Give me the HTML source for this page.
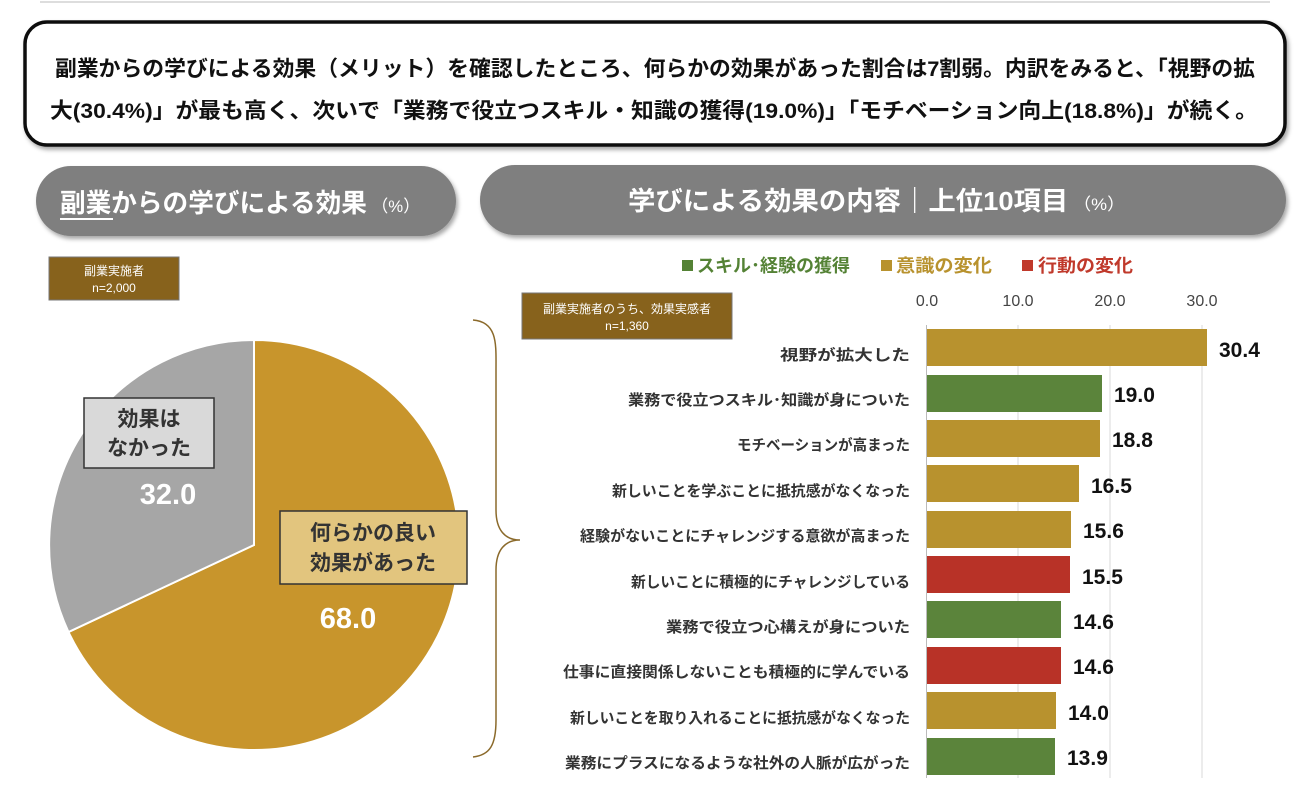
<!DOCTYPE html>
<html><head><meta charset="utf-8"><style>
body{margin:0;background:#fff;}
svg text{font-family:"Liberation Sans","Noto Sans CJK JP",sans-serif;}
</style></head><body>
<svg width="1314" height="798" viewBox="0 0 1314 798" xmlns="http://www.w3.org/2000/svg">
<defs><filter id="sh" x="-5%" y="-10%" width="110%" height="130%"><feDropShadow dx="2" dy="3" stdDeviation="2" flood-color="#000" flood-opacity="0.35"/></filter></defs>
<line x1="40" y1="2" x2="1270" y2="2" stroke="#ddd" stroke-width="2"/>
<rect x="25" y="22" width="1260" height="123" rx="22" fill="#fff" stroke="#111" stroke-width="3.5" filter="url(#sh)"/>
<text x="55" y="76" textLength="1200" lengthAdjust="spacingAndGlyphs" font-size="21.5" font-weight="bold" fill="#111">副業からの学びによる効果（メリット）を確認したところ、何らかの効果があった割合は7割弱。内訳をみると、「視野の拡</text>
<text x="50" y="118" textLength="1208" lengthAdjust="spacingAndGlyphs" font-size="21.5" font-weight="bold" fill="#111">大(30.4%)」が最も高く、次いで「業務で役立つスキル・知識の獲得(19.0%)」「モチベーション向上(18.8%)」が続く。</text>

<rect x="36" y="166" width="420" height="70" rx="35" fill="#7f7f7f" filter="url(#sh)"/>
<text x="60" y="212" textLength="360" lengthAdjust="spacingAndGlyphs" font-size="26" font-weight="bold" fill="#fff">副業からの学びによる効果<tspan font-size="17" font-weight="normal"> （%）</tspan></text>
<line x1="60" y1="219" x2="113" y2="219" stroke="#fff" stroke-width="2"/>
<rect x="480" y="165" width="806" height="70" rx="35" fill="#7f7f7f" filter="url(#sh)"/>
<text x="628" y="210" textLength="497" lengthAdjust="spacingAndGlyphs" font-size="26" font-weight="bold" fill="#fff">学びによる効果の内容｜上位10項目<tspan font-size="17" font-weight="normal"> （%）</tspan></text>

<rect x="49" y="257" width="130" height="43" fill="#87621c" stroke="#777"/>
<text x="114" y="275" text-anchor="middle" font-size="12" fill="#fff">副業実施者</text>
<text x="114" y="292" text-anchor="middle" font-size="12" fill="#fff">n=2,000</text>

<path d="M254,545 L254,340 A205,205 0 1 1 68.5,632 Z" fill="#c8952c" stroke="#fff" stroke-width="2"/>
<path d="M254,545 L68.5,632 A205,205 0 0 1 254,340 Z" fill="#a6a6a6" stroke="#fff" stroke-width="2"/>
<rect x="84" y="398" width="130" height="70" fill="#d9d9d9" stroke="#333" stroke-width="1.5"/>
<text x="149" y="426" text-anchor="middle" font-size="21" font-weight="bold" fill="#333">効果は</text>
<text x="149" y="455" text-anchor="middle" font-size="21" font-weight="bold" fill="#333">なかった</text>
<text x="168" y="504" text-anchor="middle" font-size="29" font-weight="bold" fill="#fff">32.0</text>
<rect x="280" y="511" width="187" height="73" fill="#e2c57e" stroke="#333" stroke-width="1.5"/>
<text x="373" y="540" text-anchor="middle" font-size="21" font-weight="bold" fill="#333">何らかの良い</text>
<text x="373" y="570" text-anchor="middle" font-size="21" font-weight="bold" fill="#333">効果があった</text>
<text x="348" y="628" text-anchor="middle" font-size="29" font-weight="bold" fill="#fff">68.0</text>

<path d="M473,320 C498,322 496,345 496,370 L496,510 C496,530 505,540 520,540 C505,540 496,550 496,570 L496,720 C496,745 490,755 473,757" fill="none" stroke="#8b6a2b" stroke-width="1.5"/>

<rect x="522" y="293" width="210" height="46" fill="#87621c" stroke="#777"/>
<text x="627" y="313" text-anchor="middle" font-size="12" fill="#fff">副業実施者のうち、効果実感者</text>
<text x="627" y="330" text-anchor="middle" font-size="12" fill="#fff">n=1,360</text>

<rect x="682" y="260" width="11" height="11" fill="#548235"/><text x="697" y="272" textLength="153" lengthAdjust="spacingAndGlyphs" font-size="18" font-weight="bold" fill="#548235">スキル･経験の獲得</text>
<rect x="881" y="260" width="11" height="11" fill="#b8922e"/><text x="896" y="272" textLength="96" lengthAdjust="spacingAndGlyphs" font-size="18" font-weight="bold" fill="#b8922e">意識の変化</text>
<rect x="1022" y="260" width="11" height="11" fill="#c0392b"/><text x="1038" y="272" textLength="95" lengthAdjust="spacingAndGlyphs" font-size="18" font-weight="bold" fill="#c0392b">行動の変化</text>

<g font-size="16" fill="#444" text-anchor="middle">
<text x="927" y="306">0.0</text><text x="1018" y="306">10.0</text><text x="1110" y="306">20.0</text><text x="1202" y="306">30.0</text>
</g>
<g stroke="#d9d9d9" stroke-width="1">
<line x1="1018" y1="325" x2="1018" y2="778"/><line x1="1110" y1="325" x2="1110" y2="778"/><line x1="1202" y1="325" x2="1202" y2="778"/>
</g>
<line x1="926.5" y1="325" x2="926.5" y2="778" stroke="#bbb"/>

<g font-size="15" font-weight="bold" fill="#333" lengthAdjust="spacingAndGlyphs">
<text x="780" y="360" textLength="130" lengthAdjust="spacingAndGlyphs">視野が拡大した</text>
<text x="628" y="405" textLength="282" lengthAdjust="spacingAndGlyphs">業務で役立つスキル･知識が身についた</text>
<text x="737" y="450" textLength="173" lengthAdjust="spacingAndGlyphs">モチベーションが高まった</text>
<text x="612" y="496" textLength="298" lengthAdjust="spacingAndGlyphs">新しいことを学ぶことに抵抗感がなくなった</text>
<text x="580" y="541" textLength="330" lengthAdjust="spacingAndGlyphs">経験がないことにチャレンジする意欲が高まった</text>
<text x="631" y="587" textLength="279" lengthAdjust="spacingAndGlyphs">新しいことに積極的にチャレンジしている</text>
<text x="666" y="632" textLength="244" lengthAdjust="spacingAndGlyphs">業務で役立つ心構えが身についた</text>
<text x="563" y="677" textLength="347" lengthAdjust="spacingAndGlyphs">仕事に直接関係しないことも積極的に学んでいる</text>
<text x="570" y="723" textLength="340" lengthAdjust="spacingAndGlyphs">新しいことを取り入れることに抵抗感がなくなった</text>
<text x="565" y="768" textLength="345" lengthAdjust="spacingAndGlyphs">業務にプラスになるような社外の人脈が広がった</text>
</g>
<g>
<rect x="927" y="329" width="280" height="37" fill="#b8922e"/>
<rect x="927" y="375" width="175" height="37" fill="#5b843b"/>
<rect x="927" y="420" width="173" height="37" fill="#b8922e"/>
<rect x="927" y="465" width="152" height="37" fill="#b8922e"/>
<rect x="927" y="511" width="144" height="37" fill="#b8922e"/>
<rect x="927" y="556" width="143" height="37" fill="#b83227"/>
<rect x="927" y="601" width="134" height="37" fill="#5b843b"/>
<rect x="927" y="647" width="134" height="37" fill="#b83227"/>
<rect x="927" y="692" width="129" height="37" fill="#b8922e"/>
<rect x="927" y="738" width="128" height="37" fill="#5b843b"/>
</g>
<g font-size="21" font-weight="bold" fill="#111">
<text x="1219" y="357">30.4</text>
<text x="1114" y="402">19.0</text>
<text x="1112" y="447">18.8</text>
<text x="1091" y="493">16.5</text>
<text x="1083" y="538">15.6</text>
<text x="1082" y="584">15.5</text>
<text x="1073" y="629">14.6</text>
<text x="1073" y="674">14.6</text>
<text x="1068" y="720">14.0</text>
<text x="1067" y="765">13.9</text>
</g>
</svg>
</body></html>
